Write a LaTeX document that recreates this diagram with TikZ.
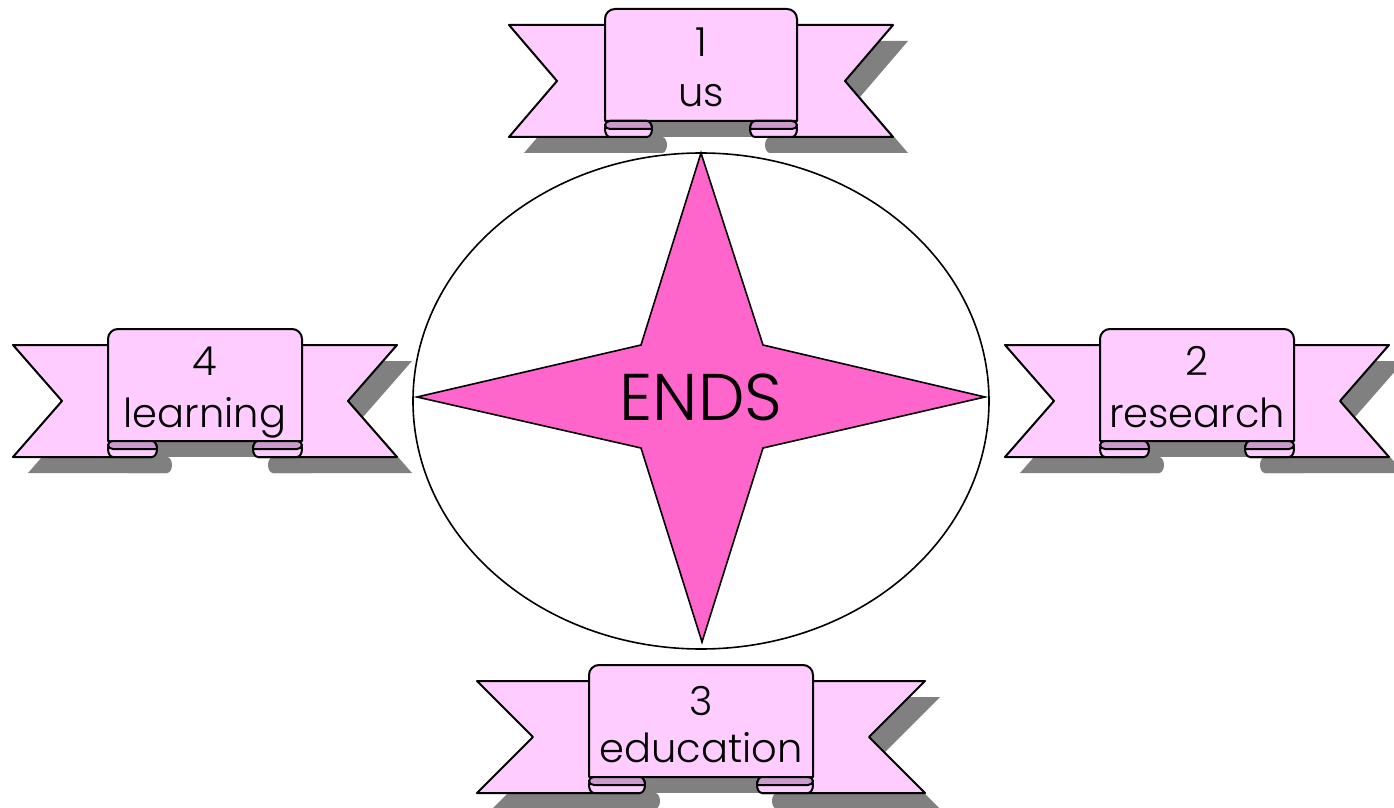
\documentclass[tikz,border=0pt]{standalone}
\usepackage{fontspec}
\IfFontExistsTF{Poppins Light}{\setmainfont{Poppins Light}}{\setmainfont{Poppins}}
\definecolor{ribfill}{HTML}{FFCCFF}
\definecolor{rolldark}{HTML}{CC99CC}
\definecolor{starpink}{HTML}{FF66CC}
\definecolor{shadowgray}{HTML}{808080}
\tikzset{
  ribline/.style={draw=black, line width=1pt, line join=round},
  ribtext/.style={font=\fontsize{20}{20}\selectfont, anchor=base, inner sep=0pt},
}
% #1 cx, #2 y0, #3 W, #4 P, #5 N, #6 C
\newcommand\ribsil[6]{%
  \fill ({#1-#4},{#2}) rectangle ({#1+#4},{#2+112});
  \fill ({#1-#4},{#2+16}) -- ({#1-#3},{#2+16}) -- ({#1-#3+#5},{#2+72}) -- ({#1-#3},{#2+128}) -- ({#1-#4+#6-5},{#2+128}) -- ({#1-#4+#6-5},{#2+112}) -- cycle;
  \fill ({#1+#4},{#2+16}) -- ({#1+#3},{#2+16}) -- ({#1+#3-#5},{#2+72}) -- ({#1+#3},{#2+128}) -- ({#1+#4-#6+5},{#2+128}) -- ({#1+#4-#6+5},{#2+112}) -- cycle;
  \fill ({#1-#4+5},{#2+112}) -- ({#1-#4+#6-5},{#2+112}) arc[start angle=-90,end angle=90,x radius=5,y radius=8] -- ({#1-#4+5},{#2+128}) arc[start angle=90,end angle=270,x radius=5,y radius=8] -- cycle;
  \fill ({#1+#4-#6+5},{#2+112}) -- ({#1+#4-5},{#2+112}) arc[start angle=-90,end angle=90,x radius=5,y radius=8] -- ({#1+#4-#6+5},{#2+128}) arc[start angle=90,end angle=270,x radius=5,y radius=8] -- cycle;
}
\newcommand\ribfront[6]{%
  % wings
  \path[ribline, fill=ribfill] ({#1-#4},{#2+16}) -- ({#1-#3},{#2+16}) -- ({#1-#3+#5},{#2+72}) -- ({#1-#3},{#2+128}) -- ({#1-#4+#6-5},{#2+128}) -- ({#1-#4+#6-5},{#2+112}) -- cycle;
  \path[ribline, fill=ribfill] ({#1+#4},{#2+16}) -- ({#1+#3},{#2+16}) -- ({#1+#3-#5},{#2+72}) -- ({#1+#3},{#2+128}) -- ({#1+#4-#6+5},{#2+128}) -- ({#1+#4-#6+5},{#2+112}) -- cycle;
  % panel
  \path[ribline, fill=ribfill] ({#1-#4},{#2+112}) [rounded corners=5pt] -- ({#1-#4},{#2}) -- ({#1+#4},{#2}) [sharp corners] -- ({#1+#4},{#2+112}) -- cycle;
  % left curl
  \path[ribline, fill=ribfill] ({#1-#4+5},{#2+112}) -- ({#1-#4+#6-5},{#2+112}) arc[start angle=-90,end angle=90,x radius=5,y radius=8] -- ({#1-#4+5},{#2+128}) arc[start angle=90,end angle=270,x radius=5,y radius=8] -- cycle;
  \path[ribline, fill=rolldark] ({#1-#4+5},{#2+112}) -- ({#1-#4+#6-5},{#2+112}) arc[start angle=-90,end angle=0,x radius=5,y radius=8] -- ({#1-#4+5},{#2+120}) arc[start angle=90,end angle=270,x radius=5,y radius=4] -- cycle;
  % right curl
  \path[ribline, fill=ribfill] ({#1+#4-#6+5},{#2+112}) -- ({#1+#4-5},{#2+112}) arc[start angle=-90,end angle=90,x radius=5,y radius=8] -- ({#1+#4-#6+5},{#2+128}) arc[start angle=90,end angle=270,x radius=5,y radius=8] -- cycle;
  \path[ribline, fill=rolldark] ({#1+#4-5},{#2+112}) -- ({#1+#4-#6+5},{#2+112}) arc[start angle=270,end angle=180,x radius=5,y radius=8] -- ({#1+#4-5},{#2+120}) arc[start angle=90,end angle=-90,x radius=5,y radius=4] -- cycle;
}
\begin{document}
\begin{tikzpicture}[x=0.5pt, y=-0.5pt]
\useasboundingbox (0,0) rectangle (1394,808);
% shadows
\begin{scope}[shift={(15,16)}, shadowgray]
  \ribsil{701}{9}{192}{96}{48}{47}
  \ribsil{205}{329}{192}{97}{49}{49}
  \ribsil{1197}{329}{192}{97}{49}{49}
  \ribsil{701}{665}{224}{112}{56}{56}
\end{scope}
% central ellipse and star
\draw[line width=0.8pt, fill=white] (701,401) ellipse [x radius=288, y radius=248];
\path[draw=black, line width=0.8pt, line join=miter, fill=starpink]
  (701,153) -- (763,345) -- (985,397) -- (763,448) -- (702,642) -- (641,448) -- (417,397) -- (641,345) -- cycle;
\node[font=\fontsize{33}{33}\selectfont, anchor=base, inner sep=0pt] (ends) at (701,420) {ENDS};
% ribbons
\ribfront{701}{9}{192}{96}{48}{47}
\node[ribtext] (n1) at (701,57) {1};
\node[ribtext] (l1) at (701,107) {us};
\ribfront{205}{329}{192}{97}{49}{49}
\node[ribtext] (n4) at (205,375) {4};
\node[ribtext] (l4) at (205,427) {learning};
\ribfront{1197}{329}{192}{97}{49}{49}
\node[ribtext] (n2) at (1197,375) {2};
\node[ribtext] (l2) at (1197,427) {research};
\ribfront{701}{665}{224}{112}{56}{56}
\node[ribtext] (n3) at (701,715) {3};
\node[ribtext] (l3) at (701,762) {education};
\end{tikzpicture}
\end{document}
